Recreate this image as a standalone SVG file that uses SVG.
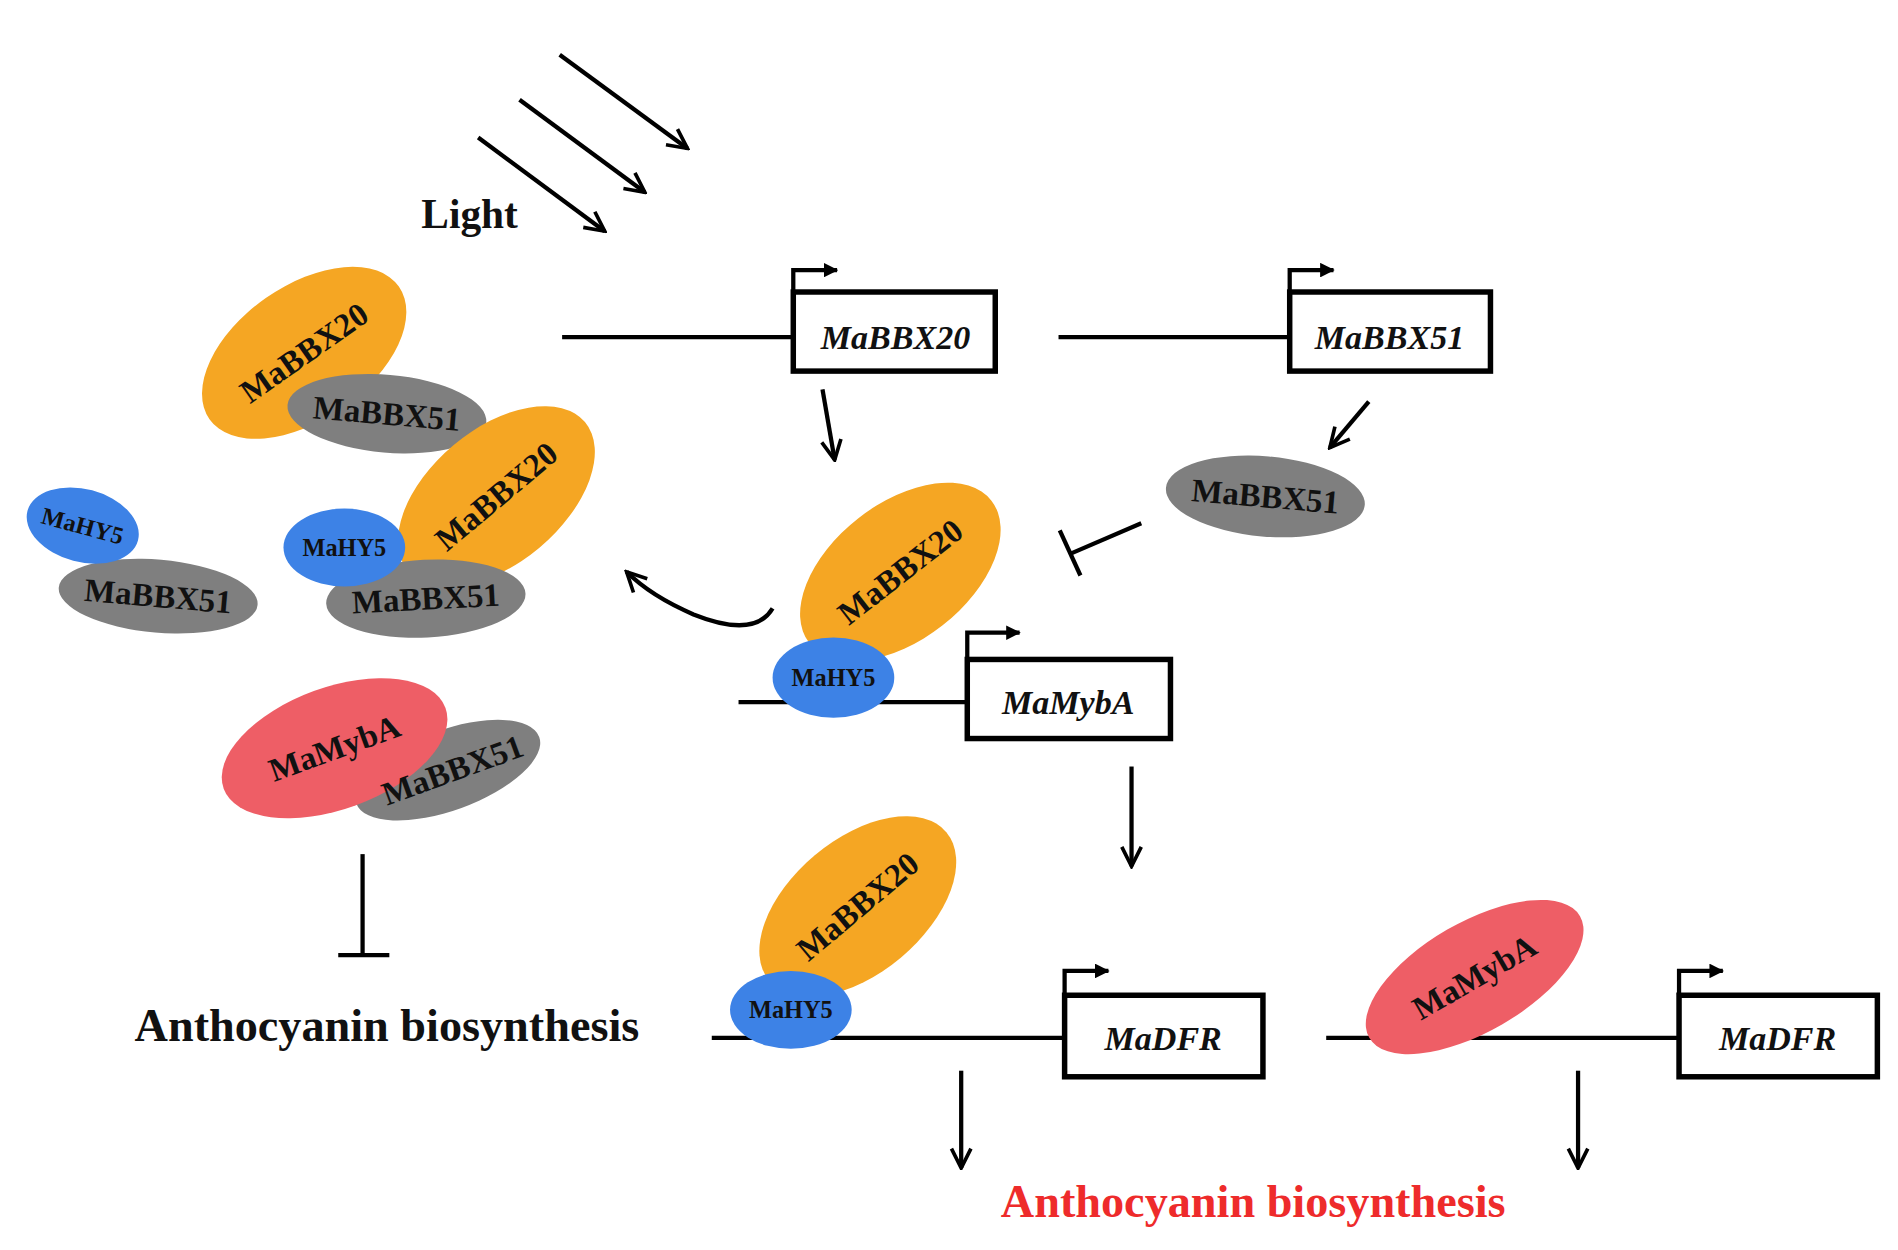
<svg xmlns="http://www.w3.org/2000/svg" width="1898" height="1250" viewBox="0 0 1898 1250">
<defs>
<style>
.ln{stroke:#000;stroke-width:3.5;fill:none}
.bx{stroke:#000;stroke-width:4.5;fill:#fff}
.gt{font-family:"Liberation Serif",serif;font-weight:bold;font-style:italic;font-size:28px;text-anchor:middle;fill:#111}
.pt{font-family:"Liberation Serif",serif;font-weight:bold;font-size:27px;text-anchor:middle;fill:#111}
.sm{font-size:20px}
.o{fill:#f5a623}.g{fill:#7f7f7f}.b{fill:#3d82e6}.r{fill:#ee5e66}
</style>
<marker id="ah" viewBox="0 0 20 20" refX="18" refY="10" markerWidth="20" markerHeight="20" markerUnits="userSpaceOnUse" orient="auto"><path d="M2,2 L18,10 L2,18" fill="none" stroke="#000" stroke-width="3"/></marker>
<marker id="pa" viewBox="0 0 12 12" refX="11" refY="6" markerWidth="12" markerHeight="12" markerUnits="userSpaceOnUse" orient="auto"><path d="M0,0 L12,6 L0,12 Z" fill="#000"/></marker>
</defs>
<rect width="1898" height="1250" fill="#fff"/>
<g transform="scale(1.2167)">
<g id="connectors">
<line class="ln" x1="460" y1="45" x2="565" y2="122" marker-end="url(#ah)"/>
<line class="ln" x1="427" y1="82" x2="530" y2="158" marker-end="url(#ah)"/>
<line class="ln" x1="393" y1="113" x2="497" y2="190" marker-end="url(#ah)"/>
<line class="ln" x1="676" y1="320" x2="686" y2="378" marker-end="url(#ah)"/>
<line class="ln" x1="1125" y1="330" x2="1093" y2="368" marker-end="url(#ah)"/>
<line class="ln" x1="938" y1="430" x2="880" y2="455"/>
<line class="ln" x1="871" y1="436" x2="888" y2="473"/>
<path class="ln" d="M635,500 Q620,525 570,505 Q535,490 515,470" marker-end="url(#ah)" stroke-width="4"/>
<line class="ln" x1="930" y1="630" x2="930" y2="712" marker-end="url(#ah)"/>
<line class="ln" x1="298" y1="702" x2="298" y2="785" stroke-width="4"/>
<line class="ln" x1="278" y1="785" x2="320" y2="785" stroke-width="5"/>
<line class="ln" x1="790" y1="880" x2="790" y2="960" marker-end="url(#ah)"/>
<line class="ln" x1="1297" y1="880" x2="1297" y2="960" marker-end="url(#ah)"/>
</g>
<text x="386" y="187" class="pt" style="font-size:34px">Light</text>
<g id="gene-MaBBX20">
<line class="ln" x1="462" y1="277" x2="652" y2="277"/>
<rect class="bx" x="652" y="240" width="166" height="65"/>
<path class="ln" d="M652,240 V222 H688" marker-end="url(#pa)"/>
<text class="gt" x="736" y="287">MaBBX20</text>
</g>
<g id="gene-MaBBX51">
<line class="ln" x1="870" y1="277" x2="1060" y2="277"/>
<rect class="bx" x="1060" y="240" width="165" height="65"/>
<path class="ln" d="M1060,240 V222 H1096" marker-end="url(#pa)"/>
<text class="gt" x="1142" y="287">MaBBX51</text>
</g>
<g id="free-MaBBX51">
<ellipse class="g" cx="1040" cy="408" rx="82" ry="33" transform="rotate(5 1040 408)"/>
<text class="pt" x="1040" y="417" transform="rotate(5 1040 408)">MaBBX51</text>
</g>
<g id="gene-MaMybA">
<line class="ln" x1="607" y1="577" x2="795" y2="577"/>
<rect class="bx" x="795" y="542" width="167" height="65"/>
<path class="ln" d="M795,542 V520 H838" marker-end="url(#pa)"/>
<text class="gt" x="878" y="587">MaMybA</text>
</g>
<g id="complex-center">
<ellipse class="o" cx="740" cy="470" rx="95" ry="56" transform="rotate(-38 740 470)"/>
<text class="pt" x="740" y="479" transform="rotate(-38 740 470)">MaBBX20</text>
<ellipse class="b" cx="685" cy="557" rx="50" ry="33"/>
<text class="pt sm" x="685" y="564">MaHY5</text>
</g>
<g id="complex-1">
<ellipse class="o" cx="250" cy="290" rx="95" ry="55" transform="rotate(-35 250 290)"/>
<text class="pt" x="250" y="299" transform="rotate(-35 250 290)">MaBBX20</text>
<ellipse class="g" cx="318" cy="340" rx="82" ry="32" transform="rotate(5 318 340)"/>
<text class="pt" x="318" y="349" transform="rotate(5 318 340)">MaBBX51</text>
</g>
<g id="complex-2">
<ellipse class="g" cx="130" cy="490" rx="82" ry="30" transform="rotate(5 130 490)"/>
<text class="pt" x="130" y="499" transform="rotate(5 130 490)">MaBBX51</text>
<ellipse class="b" cx="68" cy="432" rx="47" ry="30" transform="rotate(15 68 432)"/>
<text class="pt sm" x="68" y="439" transform="rotate(15 68 432)">MaHY5</text>
</g>
<g id="complex-3">
<ellipse class="o" cx="408" cy="408" rx="95" ry="55" transform="rotate(-40 408 408)"/>
<text class="pt" x="408" y="417" transform="rotate(-40 408 408)">MaBBX20</text>
<ellipse class="g" cx="350" cy="492" rx="82" ry="32" transform="rotate(-3 350 492)"/>
<text class="pt" x="350" y="501" transform="rotate(-3 350 492)">MaBBX51</text>
<ellipse class="b" cx="283" cy="450" rx="50" ry="32"/>
<text class="pt sm" x="283" y="457">MaHY5</text>
</g>
<g id="complex-4">
<ellipse class="g" cx="368" cy="633" rx="80" ry="33" transform="rotate(-20 368 633)"/>
<ellipse class="r" cx="275" cy="615" rx="97" ry="50" transform="rotate(-20 275 615)"/>
<text class="pt" x="275" y="624" transform="rotate(-20 275 615)">MaMybA</text>
<text class="pt" x="372" y="642" transform="rotate(-20 372 633)">MaBBX51</text>
</g>
<text class="pt" x="318" y="856" style="font-size:38px">Anthocyanin biosynthesis</text>
<g id="gene-MaDFR-1">
<line class="ln" x1="585" y1="853" x2="875" y2="853"/>
<rect class="bx" x="875" y="818" width="163" height="67"/>
<path class="ln" d="M875,818 V798 H911" marker-end="url(#pa)"/>
<text class="gt" x="956" y="863">MaDFR</text>
</g>
<g id="complex-5">
<ellipse class="o" cx="705" cy="745" rx="95" ry="55" transform="rotate(-40 705 745)"/>
<text class="pt" x="705" y="754" transform="rotate(-40 705 745)">MaBBX20</text>
<ellipse class="b" cx="650" cy="830" rx="50" ry="32"/>
<text class="pt sm" x="650" y="837">MaHY5</text>
</g>
<g id="gene-MaDFR-2">
<line class="ln" x1="1090" y1="853" x2="1380" y2="853"/>
<rect class="bx" x="1380" y="818" width="163" height="67"/>
<path class="ln" d="M1380,818 V798 H1416" marker-end="url(#pa)"/>
<text class="gt" x="1461" y="863">MaDFR</text>
</g>
<g id="complex-6">
<ellipse class="r" cx="1212" cy="803" rx="100" ry="45" transform="rotate(-30 1212 803)"/>
<text class="pt" x="1212" y="812" transform="rotate(-30 1212 803)">MaMybA</text>
</g>
<text class="pt" x="1030" y="1000" style="font-size:38px;fill:#ee2b2b">Anthocyanin biosynthesis</text>
</g>
</svg>
